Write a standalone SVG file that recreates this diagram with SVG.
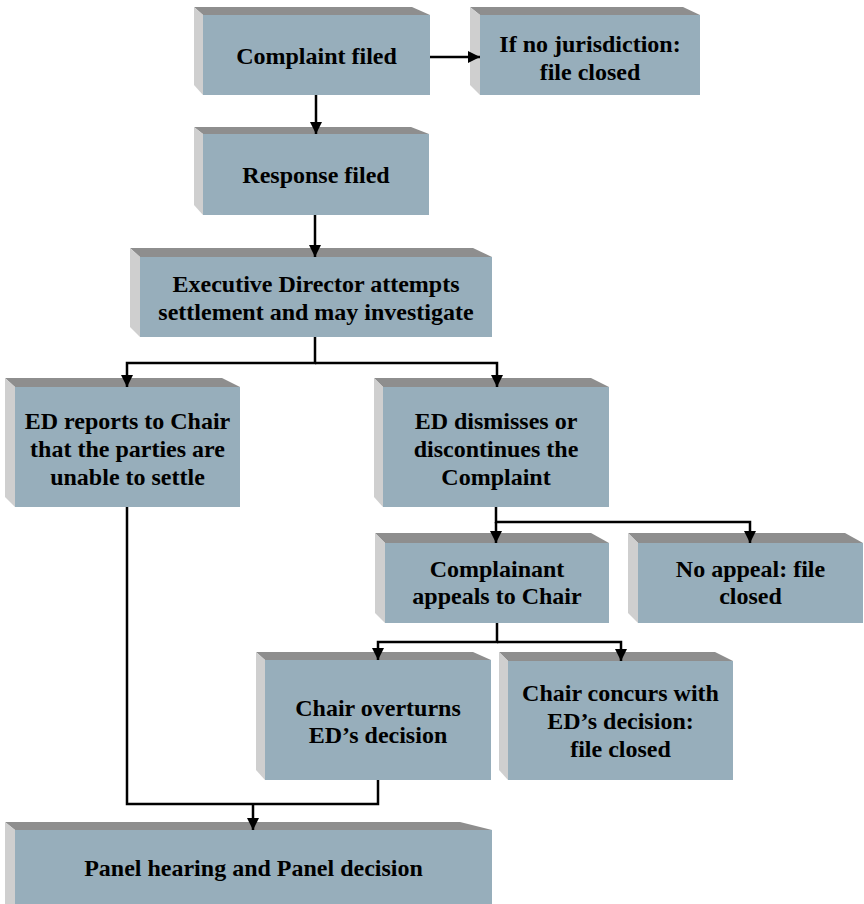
<svg xmlns="http://www.w3.org/2000/svg" width="864" height="904" viewBox="0 0 864 904">
<style>
.front{fill:#97aebb}
.top{fill:#8e8e8e}
.side{fill:#cfcfcf}
.lbl{font-family:'Liberation Serif','DejaVu Serif',serif;font-weight:bold;font-size:24px;fill:#000;text-anchor:middle}
.conn path{fill:none;stroke:#000;stroke-width:2.5}
</style>
<defs>
<marker id="arr" markerUnits="userSpaceOnUse" markerWidth="12" markerHeight="12" refX="12" refY="6" orient="auto">
<path d="M0,0 L12,6 L0,12 z" fill="#000"/>
</marker>
</defs>
<rect width="864" height="904" fill="#fff"/>

<g id="complaint">
<polygon class="top" points="194,7 412,7 430,15 203,15"/>
<polygon class="side" points="194,7 203,15 203,95 194,85"/>
<rect class="front" x="203" y="15" width="227" height="80"/>
<text class="lbl" x="316.5" y="64">Complaint filed</text>
</g>

<g id="nojurisdiction">
<polygon class="top" points="470,7 683,7 700,15 480,15"/>
<polygon class="side" points="470,7 480,15 480,95 470,85"/>
<rect class="front" x="480" y="15" width="220" height="80"/>
<text class="lbl" x="590" y="52">If no jurisdiction:</text>
<text class="lbl" x="590" y="80">file closed</text>
</g>

<g id="response">
<polygon class="top" points="194,127 411,127 429,134 203,134"/>
<polygon class="side" points="194,127 203,134 203,215 194,205"/>
<rect class="front" x="203" y="134" width="226" height="81"/>
<text class="lbl" x="316" y="183">Response filed</text>
</g>

<g id="executive">
<polygon class="top" points="130,248 473,248 492,257 140,257"/>
<polygon class="side" points="130,248 140,257 140,337 130,327"/>
<rect class="front" x="140" y="257" width="352" height="80"/>
<text class="lbl" x="316" y="292">Executive Director attempts</text>
<text class="lbl" x="316" y="320">settlement and may investigate</text>
</g>

<g id="edreports">
<polygon class="top" points="5,378 222,378 240,387 15,387"/>
<polygon class="side" points="5,378 15,387 15,507 5,497"/>
<rect class="front" x="15" y="387" width="225" height="120"/>
<text class="lbl" x="127.5" y="429">ED reports to Chair</text>
<text class="lbl" x="127.5" y="457">that the parties are</text>
<text class="lbl" x="127.5" y="485">unable to settle</text>
</g>

<g id="eddismisses">
<polygon class="top" points="374,378 591,378 609,387 383,387"/>
<polygon class="side" points="374,378 383,387 383,507 374,497"/>
<rect class="front" x="383" y="387" width="226" height="120"/>
<text class="lbl" x="496" y="429">ED dismisses or</text>
<text class="lbl" x="496" y="457">discontinues the</text>
<text class="lbl" x="496" y="485">Complaint</text>
</g>

<g id="complainant">
<polygon class="top" points="375,533 591,533 609,543 385,543"/>
<polygon class="side" points="375,533 385,543 385,623 375,613"/>
<rect class="front" x="385" y="543" width="224" height="80"/>
<text class="lbl" x="497" y="577">Complainant</text>
<text class="lbl" x="497" y="604">appeals to Chair</text>
</g>

<g id="noappeal">
<polygon class="top" points="628,533 845,533 863,543 638,543"/>
<polygon class="side" points="628,533 638,543 638,623 628,613"/>
<rect class="front" x="638" y="543" width="225" height="80"/>
<text class="lbl" x="750.5" y="577">No appeal: file</text>
<text class="lbl" x="750.5" y="604">closed</text>
</g>

<g id="overturns">
<polygon class="top" points="256,652 473,652 491,660 265,660"/>
<polygon class="side" points="256,652 265,660 265,780 256,770"/>
<rect class="front" x="265" y="660" width="226" height="120"/>
<text class="lbl" x="378" y="716">Chair overturns</text>
<text class="lbl" x="378" y="743">ED’s decision</text>
</g>

<g id="concurs">
<polygon class="top" points="499,652 715,652 733,661 508,661"/>
<polygon class="side" points="499,652 508,661 508,780 499,770"/>
<rect class="front" x="508" y="661" width="225" height="119"/>
<text class="lbl" x="620.5" y="701">Chair concurs with</text>
<text class="lbl" x="620.5" y="729">ED’s decision:</text>
<text class="lbl" x="620.5" y="757">file closed</text>
</g>

<g id="panel">
<polygon class="top" points="5,822 460,822 492,830 15,830"/>
<polygon class="side" points="5,822 15,830 15,904 5,904"/>
<rect class="front" x="15" y="830" width="477" height="74"/>
<text class="lbl" x="253.5" y="876">Panel hearing and Panel decision</text>
</g>

<g class="conn" id="connectors">
<path d="M430,57 H480" marker-end="url(#arr)"/>
<path d="M316,95 V134" marker-end="url(#arr)"/>
<path d="M315,215 V257" marker-end="url(#arr)"/>
<path d="M315,337 V363 H127 V387" marker-end="url(#arr)"/>
<path d="M315,363 H497 V387" marker-end="url(#arr)"/>
<path d="M496,507 V522 H750 V543" marker-end="url(#arr)"/>
<path d="M496,522 V543" marker-end="url(#arr)"/>
<path d="M497,623 V642 H378 V660" marker-end="url(#arr)"/>
<path d="M497,642 H621 V661" marker-end="url(#arr)"/>
<path d="M127,507 V804 H378 V780"/>
<path d="M253,804 V830" marker-end="url(#arr)"/>
</g>
</svg>
